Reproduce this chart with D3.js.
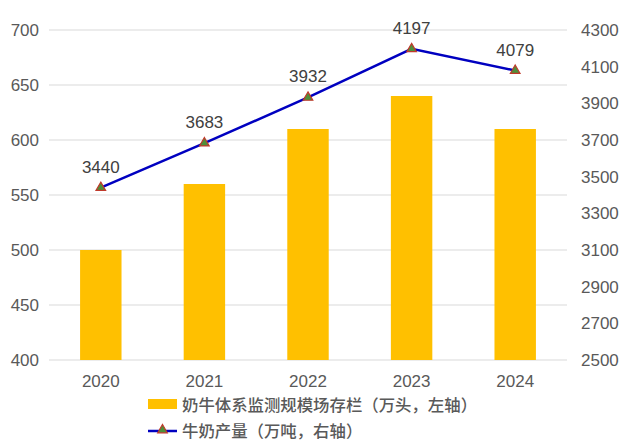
<!DOCTYPE html>
<html>
<head>
<meta charset="utf-8">
<script src="https://cdn.jsdelivr.net/npm/d3@7"></script>
<style>
  body { margin: 0; background: #fff; }
  text { font-family: "Liberation Sans", Arial, "Noto Sans CJK SC", sans-serif; }
</style>
</head>
<body>
<div id="chart"></div>
<script>
const years = ["2020", "2021", "2022", "2023", "2024"];
const herd = [500, 560, 610, 640, 610];          // 万头, left axis
const milk = [3440, 3683, 3932, 4197, 4079];     // 万吨, right axis
const leftTicks = [400, 450, 500, 550, 600, 650, 700];
const rightTicks = [2500, 2700, 2900, 3100, 3300, 3500, 3700, 3900, 4100, 4300];
const legendLabels = ["奶牛体系监测规模场存栏（万头，左轴）", "牛奶产量（万吨，右轴）"];

const width = 631, height = 448;
const margin = { top: 30, right: 64, bottom: 88, left: 49 };
const plotW = width - margin.left - margin.right;
const plotH = height - margin.top - margin.bottom;

const svg = d3.select("#chart").append("svg")
  .attr("width", width)
  .attr("height", height);

const g = svg.append("g").attr("transform", `translate(${margin.left},${margin.top})`);

const x = d3.scaleBand().domain(years).range([0, plotW]).paddingInner(0.6).paddingOuter(0.3);
const yL = d3.scaleLinear().domain([400, 700]).range([plotH, 0]);
const yR = d3.scaleLinear().domain([2500, 4300]).range([plotH, 0]);

// gridlines
g.append("g")
  .selectAll("line")
  .data(leftTicks)
  .join("line")
  .attr("x1", 0)
  .attr("x2", plotW)
  .attr("y1", d => yL(d))
  .attr("y2", d => yL(d))
  .attr("stroke", "#d9d9d9")
  .attr("stroke-width", 1);

// left axis
const leftAxis = g.append("g")
  .call(d3.axisLeft(yL).tickValues(leftTicks).tickSize(0).tickPadding(10));
leftAxis.select(".domain").remove();
leftAxis.selectAll("text")
  .attr("fill", "#595959")
  .style("font-size", "17px");

// right axis
const rightAxis = g.append("g")
  .attr("transform", `translate(${plotW},0)`)
  .call(d3.axisRight(yR).tickValues(rightTicks).tickFormat(d3.format("d")).tickSize(0).tickPadding(14));
rightAxis.select(".domain").remove();
rightAxis.selectAll("text")
  .attr("fill", "#595959")
  .style("font-size", "17px");

// bottom axis
const bottomAxis = g.append("g")
  .attr("transform", `translate(0,${plotH})`)
  .call(d3.axisBottom(x).tickSize(0).tickPadding(15));
bottomAxis.select(".domain").remove();
bottomAxis.selectAll("text")
  .attr("fill", "#595959")
  .style("font-size", "17px");

// bars
g.append("g")
  .selectAll("rect")
  .data(herd)
  .join("rect")
  .attr("x", (d, i) => x(years[i]))
  .attr("y", d => yL(d))
  .attr("width", x.bandwidth())
  .attr("height", d => plotH - yL(d))
  .attr("fill", "#ffc000");

// line
const line = d3.line()
  .x((d, i) => x(years[i]) + x.bandwidth() / 2)
  .y(d => yR(d));

g.append("path")
  .datum(milk)
  .attr("d", line)
  .attr("fill", "none")
  .attr("stroke", "#0000c0")
  .attr("stroke-width", 2.5);

const tri = d3.symbol().type(d3.symbolTriangle).size(40);

g.append("g")
  .selectAll("path")
  .data(milk)
  .join("path")
  .attr("d", tri)
  .attr("transform", (d, i) => `translate(${x(years[i]) + x.bandwidth() / 2},${yR(d)})`)
  .attr("fill", "#4e8f3a")
  .attr("stroke", "#c0392b")
  .attr("stroke-width", 1.2);

// data labels
g.append("g")
  .selectAll("text")
  .data(milk)
  .join("text")
  .attr("x", (d, i) => x(years[i]) + x.bandwidth() / 2)
  .attr("y", d => yR(d) - 15)
  .attr("text-anchor", "middle")
  .attr("fill", "#404040")
  .style("font-size", "17px")
  .text(d => d);

// legend
const legend = svg.append("g").attr("transform", "translate(148,0)");
legend.append("rect")
  .attr("x", 0).attr("y", 399)
  .attr("width", 29).attr("height", 10)
  .attr("fill", "#ffc000");
legend.append("text")
  .attr("x", 34).attr("y", 404)
  .attr("dominant-baseline", "central")
  .attr("fill", "#595959")
  .style("font-size", "16.4px")
  .style("font-weight", "500")
  .style("font-family", "'Noto Sans CJK SC', sans-serif")
  .text(legendLabels[0]);

legend.append("line")
  .attr("x1", 0).attr("x2", 29)
  .attr("y1", 431).attr("y2", 431)
  .attr("stroke", "#0000c0")
  .attr("stroke-width", 2.5);
legend.append("path")
  .attr("d", tri)
  .attr("transform", "translate(14.5,430)")
  .attr("fill", "#4e8f3a")
  .attr("stroke", "#c0392b")
  .attr("stroke-width", 1.2);
legend.append("text")
  .attr("x", 34).attr("y", 430)
  .attr("dominant-baseline", "central")
  .attr("fill", "#595959")
  .style("font-size", "16.4px")
  .style("font-weight", "500")
  .style("font-family", "'Noto Sans CJK SC', sans-serif")
  .text(legendLabels[1]);
</script>
</body>
</html>
